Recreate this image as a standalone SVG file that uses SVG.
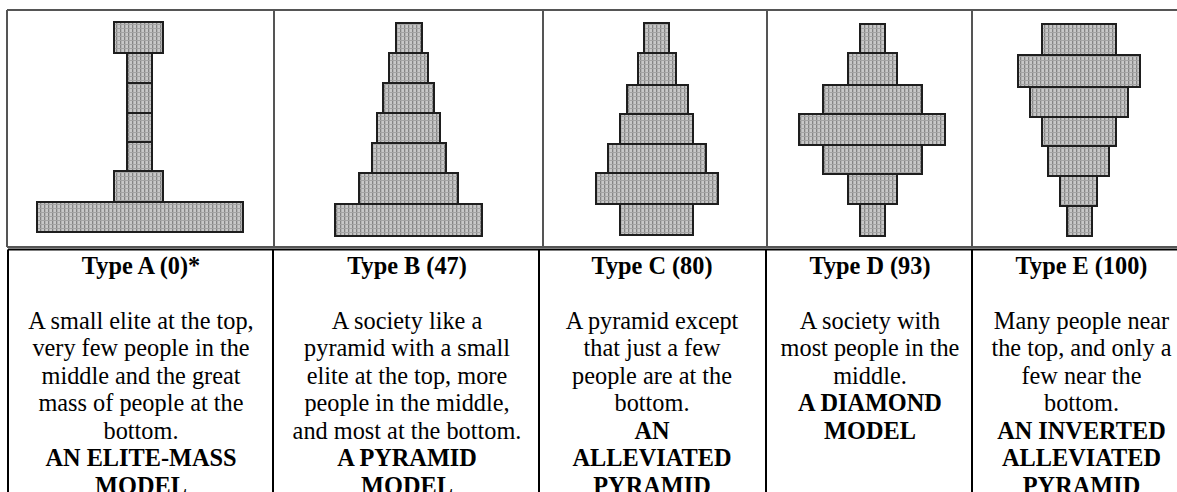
<svg xmlns="http://www.w3.org/2000/svg" width="1177" height="492" viewBox="0 0 1177 492">
<defs>
<pattern id="hatch" width="4" height="4" patternUnits="userSpaceOnUse">
<rect width="4" height="4" fill="#c8c8c8"/>
<rect x="0" y="0" width="1.3" height="4" fill="#858585"/>
<rect x="0" y="0" width="4" height="1" fill="#a4a4a4"/>
</pattern>
</defs>
<style>
.bar{fill:url(#hatch);stroke:#1e1e1e;stroke-width:2}
.frameTop{stroke:#555;stroke-width:2;fill:none}
.frameBot{stroke:#000;stroke-width:2;fill:none}
text{font-family:"Liberation Serif","Times New Roman",serif;font-size:24.3px;fill:#000;text-anchor:middle}
.h{font-weight:bold}
</style>
<rect width="1177" height="492" fill="#fff"/>
<g id="table-lines">
<path class="frameTop" d="M7,10H1177M7,10V247M7,247H1177M274,10V247M543,10V247M767,10V247M972,10V247"/>
<path class="frameBot" d="M8,249.5H1177M8,249.5V492M273,249.5V492M539,249.5V492M766,249.5V492M972,249.5V492"/>
</g>
<g id="typeA">
<rect class="bar" x="114" y="22" width="49" height="31"/>
<rect class="bar" x="127" y="53" width="25" height="30"/>
<rect class="bar" x="127" y="83" width="25" height="30"/>
<rect class="bar" x="127" y="113" width="25" height="29"/>
<rect class="bar" x="127" y="142" width="25" height="29"/>
<rect class="bar" x="114" y="171" width="49" height="31"/>
<rect class="bar" x="37" y="202" width="206" height="30"/>
<text x="141" y="273.5" class="h">Type A (0)*</text>
<text x="141" y="328.6">A small elite at the top,</text>
<text x="141" y="356.2">very few people in the</text>
<text x="141" y="383.7">middle and the great</text>
<text x="141" y="411.3">mass of people at the</text>
<text x="141" y="438.8">bottom.</text>
<text x="141" y="466.4" class="h">AN ELITE-MASS</text>
<text x="141" y="493.9" class="h">MODEL</text>
</g>
<g id="typeB">
<rect class="bar" x="396" y="23" width="26" height="30"/>
<rect class="bar" x="389" y="53" width="39" height="30"/>
<rect class="bar" x="383" y="83" width="51" height="30"/>
<rect class="bar" x="377" y="113" width="63" height="30"/>
<rect class="bar" x="372" y="143" width="74" height="30"/>
<rect class="bar" x="359" y="173" width="99" height="31"/>
<rect class="bar" x="335" y="204" width="147" height="32"/>
<text x="407" y="273.5" class="h">Type B (47)</text>
<text x="407" y="328.6">A society like a</text>
<text x="407" y="356.2">pyramid with a small</text>
<text x="407" y="383.7">elite at the top, more</text>
<text x="407" y="411.3">people in the middle,</text>
<text x="407" y="438.8">and most at the bottom.</text>
<text x="407" y="466.4" class="h">A PYRAMID</text>
<text x="407" y="493.9" class="h">MODEL</text>
</g>
<g id="typeC">
<rect class="bar" x="644" y="23" width="25" height="30"/>
<rect class="bar" x="638" y="53" width="38" height="32"/>
<rect class="bar" x="627" y="85" width="61" height="29"/>
<rect class="bar" x="620" y="114" width="73" height="30"/>
<rect class="bar" x="608" y="144" width="98" height="29"/>
<rect class="bar" x="596" y="173" width="122" height="31"/>
<rect class="bar" x="620" y="204" width="73" height="31"/>
<text x="652" y="273.5" class="h">Type C (80)</text>
<text x="652" y="328.6">A pyramid except</text>
<text x="652" y="356.2">that just a few</text>
<text x="652" y="383.7">people are at the</text>
<text x="652" y="411.3">bottom.</text>
<text x="652" y="438.8" class="h">AN</text>
<text x="652" y="466.4" class="h">ALLEVIATED</text>
<text x="652" y="493.9" class="h">PYRAMID</text>
</g>
<g id="typeD">
<rect class="bar" x="860" y="24" width="25" height="29"/>
<rect class="bar" x="848" y="53" width="49" height="32"/>
<rect class="bar" x="823" y="85" width="99" height="29"/>
<rect class="bar" x="799" y="114" width="146" height="31"/>
<rect class="bar" x="823" y="145" width="99" height="29"/>
<rect class="bar" x="848" y="174" width="49" height="30"/>
<rect class="bar" x="860" y="204" width="25" height="32"/>
<text x="870" y="273.5" class="h">Type D (93)</text>
<text x="870" y="328.6">A society with</text>
<text x="870" y="356.2">most people in the</text>
<text x="870" y="383.7">middle.</text>
<text x="870" y="411.3" class="h">A DIAMOND</text>
<text x="870" y="438.8" class="h">MODEL</text>
</g>
<g id="typeE">
<rect class="bar" x="1042" y="24" width="74" height="31"/>
<rect class="bar" x="1018" y="55" width="122" height="32"/>
<rect class="bar" x="1030" y="87" width="98" height="30"/>
<rect class="bar" x="1042" y="117" width="74" height="29"/>
<rect class="bar" x="1048" y="146" width="61" height="30"/>
<rect class="bar" x="1060" y="176" width="37" height="30"/>
<rect class="bar" x="1067" y="206" width="25" height="30"/>
<text x="1081.5" y="273.5" class="h">Type E (100)</text>
<text x="1081.5" y="328.6">Many people near</text>
<text x="1081.5" y="356.2">the top, and only a</text>
<text x="1081.5" y="383.7">few near the</text>
<text x="1081.5" y="411.3">bottom.</text>
<text x="1081.5" y="438.8" class="h">AN INVERTED</text>
<text x="1081.5" y="466.4" class="h">ALLEVIATED</text>
<text x="1081.5" y="493.9" class="h">PYRAMID</text>
</g>
</svg>
